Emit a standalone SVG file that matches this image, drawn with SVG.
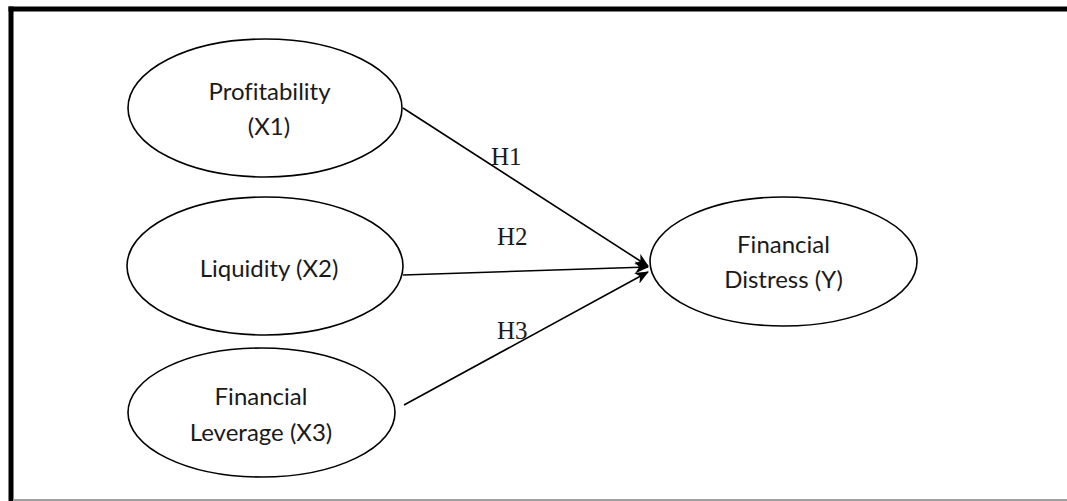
<svg xmlns="http://www.w3.org/2000/svg" width="1067" height="501" viewBox="0 0 1067 501">
  <style>
    .node ellipse { fill: #ffffff; stroke: #000000; stroke-width: 1.6; }
    .lbl { font-family: Lato, "Noto Sans", sans-serif; font-size: 24px; fill: #1a1a1a; text-anchor: middle; font-variant-ligatures: none; }
    .edge { stroke: #000000; stroke-width: 1.6; fill: none; marker-end: url(#arrow); }
    .elbl { font-family: "Liberation Serif", serif; font-size: 25px; fill: #1a1a1a; }
  </style>
  <defs>
    <marker id="arrow" viewBox="0 0 14 12" refX="13" refY="6" markerWidth="14" markerHeight="12" markerUnits="userSpaceOnUse" orient="auto">
      <path d="M0,0 L14,6 L0,12 L4,6 Z" fill="#000000"/>
    </marker>
  </defs>
  <rect width="1067" height="501" fill="#ffffff"/>
  <g id="frame">
    <line x1="8.5" y1="9" x2="1067" y2="9" stroke="#000" stroke-width="5"/>
    <line x1="11" y1="6.5" x2="11" y2="501" stroke="#000" stroke-width="5"/>
    <line x1="13" y1="500" x2="1067" y2="500" stroke="#a0a0a0" stroke-width="2"/>
  </g>
  <g id="connectors">
    <line class="edge" x1="403" y1="108" x2="648" y2="266"/>
    <line class="edge" x1="403" y1="275" x2="648" y2="267"/>
    <line class="edge" x1="404" y1="405" x2="648" y2="272"/>
    <text class="elbl" x="491" y="165">H1</text>
    <text class="elbl" x="497" y="245">H2</text>
    <text class="elbl" x="497" y="339">H3</text>
  </g>
  <g id="profitability" class="node">
    <ellipse cx="265" cy="108" rx="137" ry="69"/>
    <text class="lbl" x="269.5" y="100">Profitability</text>
    <text class="lbl" x="269" y="135">(X1)</text>
  </g>
  <g id="liquidity" class="node">
    <ellipse cx="265" cy="266" rx="138" ry="69"/>
    <text class="lbl" x="269" y="277">Liquidity (X2)</text>
  </g>
  <g id="leverage" class="node">
    <ellipse cx="261.5" cy="412.5" rx="133.5" ry="64.5"/>
    <text class="lbl" x="261" y="405">Financial</text>
    <text class="lbl" x="261" y="441">Leverage (X3)</text>
  </g>
  <g id="distress" class="node">
    <ellipse cx="783.5" cy="261.5" rx="133.5" ry="64.5"/>
    <text class="lbl" x="783.5" y="253">Financial</text>
    <text class="lbl" x="783.5" y="288">Distress (Y)</text>
  </g>
</svg>
